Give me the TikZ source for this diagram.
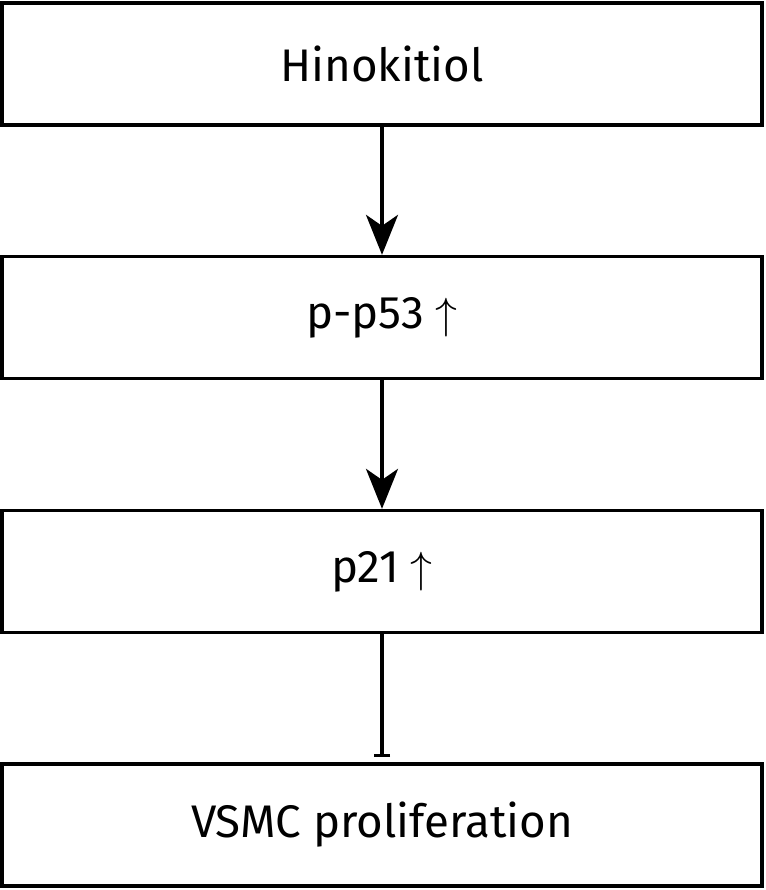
\documentclass[tikz,border=0pt]{standalone}
\usepackage{fontspec}
\setmainfont{Fira Sans}
\usetikzlibrary{arrows.meta}
\newcommand{\upar}{\ {\fontsize{36}{36}\selectfont$\uparrow$}}
\begin{document}
\begin{tikzpicture}[x=0.02cm,y=-0.02cm,line width=1.9pt,font=\fontsize{26}{30}\selectfont,
  stagebox/.style={draw,minimum width=15.2cm,minimum height=2.44cm,inner sep=0pt},
  act/.style={-{Stealth[length=0.8cm,width=0.64cm,inset=0.22cm]}},
  inh/.style={-{Bar[width=0.32cm,line width=1.9pt]},shorten >=0.1cm}]
\useasboundingbox (0,0) rectangle (765,890);
\node[stagebox] (hino) at (382,64) {Hinokitiol};
\node[stagebox] (pp53) at (382,317.5) {p-p53\upar};
\node[stagebox] (p21) at (382,571.5) {p21\upar};
\node[stagebox] (vsmc) at (382,825) {VSMC proliferation};
\draw[act] (hino)--(pp53);
\draw[act] (pp53)--(p21);
\draw[inh] (p21)--(vsmc);
\end{tikzpicture}
\end{document}
